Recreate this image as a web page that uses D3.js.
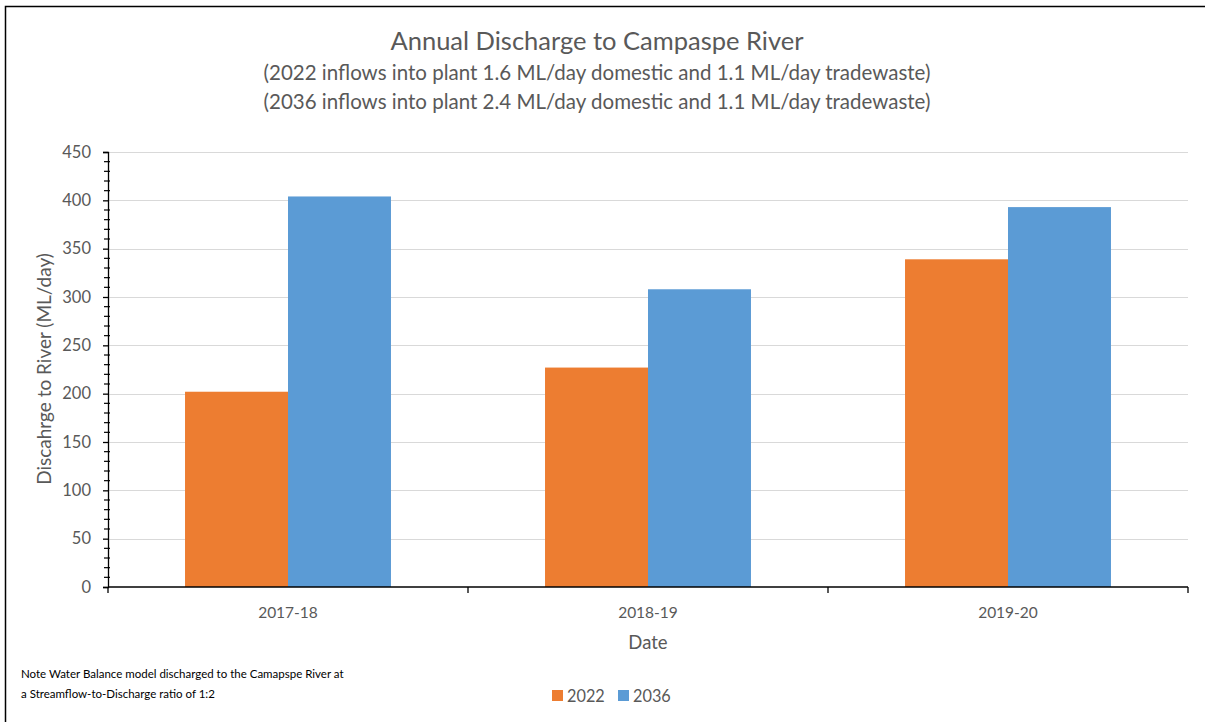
<!DOCTYPE html>
<html>
<head>
<meta charset="utf-8">
<script src="https://cdn.jsdelivr.net/npm/d3@7"></script>
<style>
  html, body { margin: 0; padding: 0; background: #fff; }
  svg { display: block; }
  text { font-family: Lato, "Open Sans", sans-serif; fill: #595959; }
</style>
</head>
<body>
<svg id="chart" width="1205" height="722"></svg>
<script>
const categories = ["2017-18", "2018-19", "2019-20"];
const seriesNames = ["2022", "2036"];
const values2022 = [202, 227, 339];
const values2036 = [404, 308, 393];
const yTicks = [0, 50, 100, 150, 200, 250, 300, 350, 400, 450];
const colors = ["#ED7D31", "#5B9BD5"];
const titleText = "Annual Discharge to Campaspe River";
const subtitle1 = "(2022 inflows into plant 1.6 ML/day domestic and 1.1 ML/day tradewaste)";
const subtitle2 = "(2036 inflows into plant 2.4 ML/day domestic and 1.1 ML/day tradewaste)";
const yLabel = "Discahrge to River (ML/day)";
const xLabel = "Date";
const noteLines = ["Note Water Balance model discharged to the Camapspe River at",
                   "a Streamflow-to-Discharge ratio of 1:2"];

(function () {
const series = [values2022, values2036];
const data = categories.map((c, i) => ({cat: c, vals: seriesNames.map((s, j) => ({s, v: series[j][i], j}))}));

const svg = d3.select("#chart");

// outer border
svg.append("rect").attr("x", 5.5).attr("y", 6.5).attr("width", 1220).attr("height", 740)
  .attr("fill", "none").attr("stroke", "#000").attr("stroke-width", 1.5);

const pl = 108, pr = 1188, pt = 152, pb = 587;
const y = d3.scaleLinear().domain([0, 450]).range([pb, pt]);
const x0 = d3.scaleBand().domain(categories).range([pl, pr]).padding(0);
const x1 = d3.scaleBand().domain(seriesNames).range([0, x0.bandwidth()]).paddingInner(0).paddingOuter(0.748);

// gridlines
svg.append("g").selectAll("line").data(yTicks.filter(d => d > 0)).join("line")
  .attr("x1", pl).attr("x2", pr)
  .attr("y1", d => Math.round(y(d)) + 0.5).attr("y2", d => Math.round(y(d)) + 0.5)
  .attr("stroke", "#D9D9D9").attr("stroke-width", 1);

// bars
svg.append("g").selectAll("g").data(data).join("g")
  .attr("transform", d => `translate(${x0(d.cat)},0)`)
  .selectAll("rect").data(d => d.vals).join("rect")
  .attr("x", d => x1(d.s)).attr("width", x1.bandwidth())
  .attr("y", d => y(d.v)).attr("height", d => y(0) - y(d.v))
  .attr("fill", d => colors[d.j]);

// y axis
const yAxis = d3.axisLeft(y).tickValues(yTicks).tickSize(5).tickPadding(12);
const gy = svg.append("g").attr("transform", `translate(${pl},0)`).call(yAxis);
gy.select(".domain").attr("stroke", "#000").attr("stroke-width", 1.3);
gy.selectAll(".tick line").attr("stroke", "#000").attr("stroke-width", 1.3);
gy.selectAll(".tick text").attr("font-size", 16.5).attr("fill", "#595959")
  .style("font-family", "Lato, 'Open Sans', sans-serif");
// minor ticks
const minor = d3.range(0, 451, 10).filter(d => d % 50 !== 0);
svg.append("g").selectAll("line").data(minor).join("line")
  .attr("x1", pl - 4).attr("x2", pl + 2)
  .attr("y1", d => y(d)).attr("y2", d => y(d))
  .attr("stroke", "#000").attr("stroke-width", 1.2);

// x axis
const gx = svg.append("g").attr("transform", `translate(0,${pb})`);
gx.append("line").attr("x1", pl).attr("x2", pr).attr("y1", 0).attr("y2", 0)
  .attr("stroke", "#000").attr("stroke-width", 1.5);
const boundaries = categories.map(c => x0(c)).concat([x0(categories[categories.length - 1]) + x0.bandwidth()]);
gx.selectAll("line.tk").data(boundaries).join("line").attr("class", "tk")
  .attr("x1", d => d).attr("x2", d => d).attr("y1", 0).attr("y2", 6)
  .attr("stroke", "#000").attr("stroke-width", 1.3);
gx.selectAll("text.cat").data(categories).join("text").attr("class", "cat")
  .attr("x", d => x0(d) + x0.bandwidth() / 2).attr("y", 31)
  .attr("text-anchor", "middle").attr("font-size", 15.5).text(d => d);

// axis titles
svg.append("text").attr("x", (pl + pr) / 2).attr("y", 649)
  .attr("text-anchor", "middle").attr("font-size", 18.5).text(xLabel);
svg.append("text").attr("transform", `translate(51,369) rotate(-90)`)
  .attr("text-anchor", "middle").attr("font-size", 19).text(yLabel);

// titles
svg.append("text").attr("x", 597).attr("y", 50).attr("text-anchor", "middle")
  .attr("font-size", 25.5).text(titleText);
svg.append("text").attr("x", 597).attr("y", 80).attr("text-anchor", "middle")
  .attr("font-size", 20.5).text(subtitle1);
svg.append("text").attr("x", 597).attr("y", 109).attr("text-anchor", "middle")
  .attr("font-size", 20.5).text(subtitle2);

// note
svg.append("g").selectAll("text").data(noteLines).join("text")
  .attr("x", 21).attr("y", (d, i) => 678 + i * 20)
  .attr("font-size", 11.5).style("fill", "#000").text(d => d);

// legend
const legend = svg.append("g").attr("transform", "translate(552,690)");
const li = legend.selectAll("g").data(seriesNames).join("g")
  .attr("transform", (d, i) => `translate(${i * 66},0)`);
li.append("rect").attr("width", 11).attr("height", 11).attr("fill", (d, i) => colors[i]);
li.append("text").attr("x", 15).attr("y", 12).attr("font-size", 16.3).text(d => d);
})();
</script>
</body>
</html>
